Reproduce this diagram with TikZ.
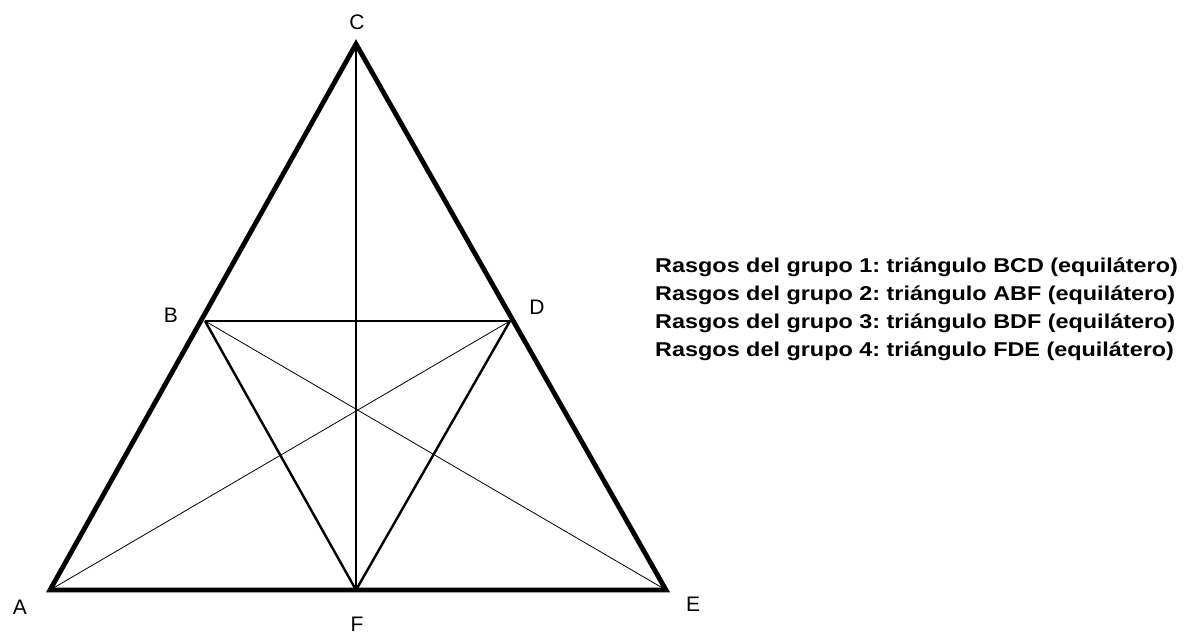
\documentclass[tikz,border=0pt]{standalone}
\usepackage{fontspec}
\setmainfont{Liberation Sans}
\frenchspacing
\begin{document}
\begin{tikzpicture}[x=1pt,y=-1pt,
  outer/.style={line width=4.8pt,line join=miter,line cap=round},
  mid/.style={line width=2.4pt},
  thin/.style={line width=1.3pt},
  hair/.style={line width=0.8pt},
  lbl/.style={font=\fontsize{21}{21}\selectfont,inner sep=0pt},
  legend/.style={font=\fontsize{20}{20}\selectfont\bfseries,inner sep=0pt,anchor=west,xscale=1.17}]
\useasboundingbox (0,0) rectangle (1191,634);
\coordinate (A) at (50,590);
\coordinate (E) at (666,590);
\coordinate (C) at (356,44);
\coordinate (B) at (205,321);
\coordinate (D) at (510,321);
\coordinate (F) at (356,590);
% thin lines
\draw[hair] (B) -- (E);
\draw[hair] (D) -- (A);
\draw[thin] (C) -- (F);
\draw[mid] (B) -- (D);
\draw[mid] (B) -- (F);
\draw[mid] (D) -- (F);
% outer triangle
\draw[outer] (A) -- (C) -- (E) -- cycle;
% labels
\node[lbl] (lA) at (20,607) {A};
\node[lbl] (lC) at (357,22) {C};
\node[lbl] (lB) at (171,315) {B};
\node[lbl] (lD) at (537,307) {D};
\node[lbl] (lE) at (693,604) {E};
\node[lbl] (lF) at (357,624) {F};
% legend
\node[legend] (g1) at (655,267) {Rasgos del grupo 1: triángulo BCD (equilátero)};
\node[legend] (g2) at (655,295) {Rasgos del grupo 2: triángulo ABF (equilátero)};
\node[legend] (g3) at (655,323) {Rasgos del grupo 3: triángulo BDF (equilátero)};
\node[legend] (g4) at (655,351) {Rasgos del grupo 4: triángulo FDE (equilátero)};
\end{tikzpicture}
\end{document}
